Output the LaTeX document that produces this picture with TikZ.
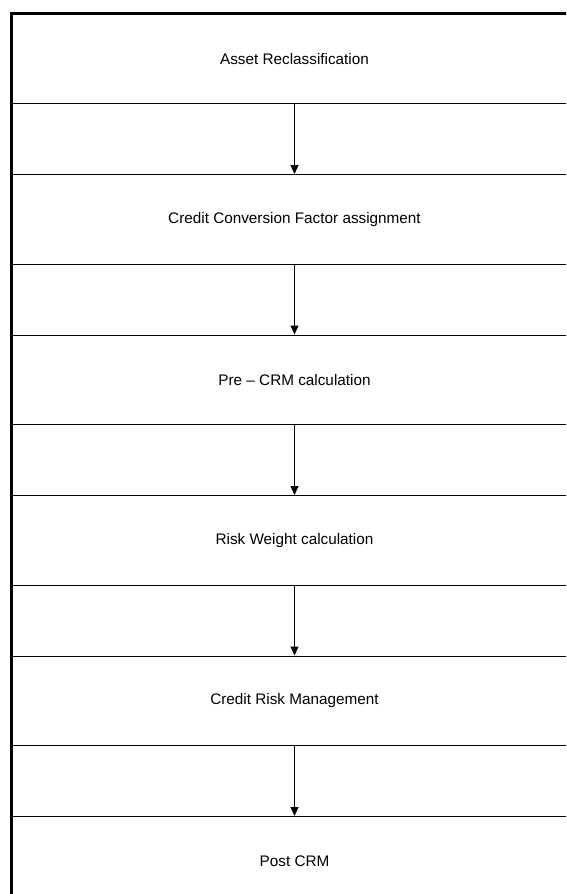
\documentclass[tikz,border=0pt]{standalone}
\usepackage{fontspec}
\setmainfont{Liberation Sans}
\usetikzlibrary{positioning, arrows.meta}

\begin{document}
\begin{tikzpicture}[
      x=1pt, y=1pt,
      stage/.style={draw, line width=1pt, minimum width=566pt,
        minimum height=89.5pt, inner sep=0pt, align=center,
        font=\fontsize{15.3pt}{18pt}\selectfont},
      >={Triangle[length=9pt, width=8pt]}, node distance=70pt]
    \clip (0,0) rectangle (566,-894);
    \node[stage] (reclass) at (294.5,-58.75) {Asset Reclassification};
    \node[stage, below=of reclass] (ccf) {Credit Conversion Factor assignment};
    \node[stage, below=of ccf] (precrm) {Pre – CRM calculation};
    \node[stage, below=of precrm] (rw) {Risk Weight calculation};
    \node[stage, below=of rw] (crm) {Credit Risk Management};
    \node[stage, below=of crm] (post) {Post CRM};
    \draw[->, line width=1pt] (reclass) -- (ccf);
    \draw[->, line width=1pt] (ccf) -- (precrm);
    \draw[->, line width=1pt] (precrm) -- (rw);
    \draw[->, line width=1pt] (rw) -- (crm);
    \draw[->, line width=1pt] (crm) -- (post);
    % heavy frame on the left and top
    \draw[line width=3pt] (post.south west) -- (reclass.north west)
      -- (reclass.north east);
  \end{tikzpicture}
\end{document}
